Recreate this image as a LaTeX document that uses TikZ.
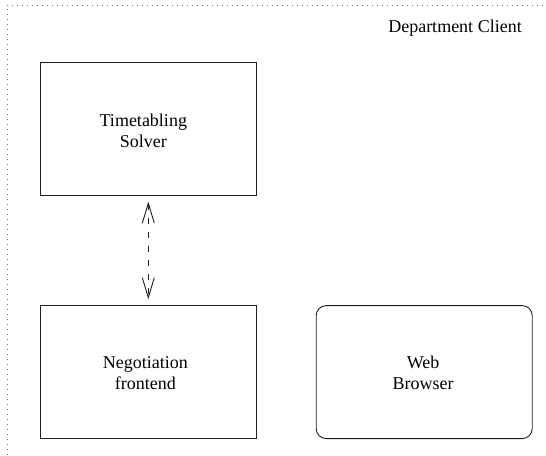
\documentclass[tikz,border=0pt]{standalone}
\usepackage{fontspec}
\setmainfont{Liberation Serif}
\usetikzlibrary{arrows.meta, positioning}
\definecolor{framegray}{RGB}{110,110,110}
\definecolor{boxline}{RGB}{30,30,30}
\tikzset{
  comp/.style={rectangle, draw=boxline, line width=0.9pt, minimum width=216pt,
               minimum height=133pt, inner sep=0pt},
  rcomp/.style={comp, rounded corners=10pt},
  lbl/.style={align=center, inner sep=0pt, font=\fontsize{18}{21}\selectfont},
  arr/.style={{Straight Barb[length=20pt,width=12pt]}-{Straight Barb[length=20pt,width=12pt]},
              dash pattern=on 6pt off 8pt, line width=0.9pt, draw=boxline,
              shorten >=6pt, shorten <=6pt},
  frame/.style={draw=framegray, line width=1pt, dash pattern=on 1pt off 4pt}
}

\begin{document}
\begin{tikzpicture}[x=1pt, y=-1pt]
\useasboundingbox (0,0) rectangle (546,455);
% enclosing client boundary
\draw[frame] (7,455) -- (7,5) -- (546,5);
\node[lbl, anchor=base] (dept) at (455,32) {Department Client};
% components
\node[comp] (solver) at (148.3,128.7) {};
\node[comp, below=109.5pt of solver] (nego) {};
\node[rcomp, right=59pt of nego] (browser) {};
\node[lbl] (solvertxt) at ([xshift=-5pt, yshift=-2pt]solver.center) {Timetabling\\Solver};
\node[lbl] (negotxt) at ([xshift=-3pt, yshift=-1pt]nego.center) {Negotiation\\frontend};
\node[lbl] (browsertxt) at ([xshift=-1pt, yshift=-1pt]browser.center) {Web\\Browser};
\draw[arr] (solver) -- (nego);
\end{tikzpicture}
\end{document}
